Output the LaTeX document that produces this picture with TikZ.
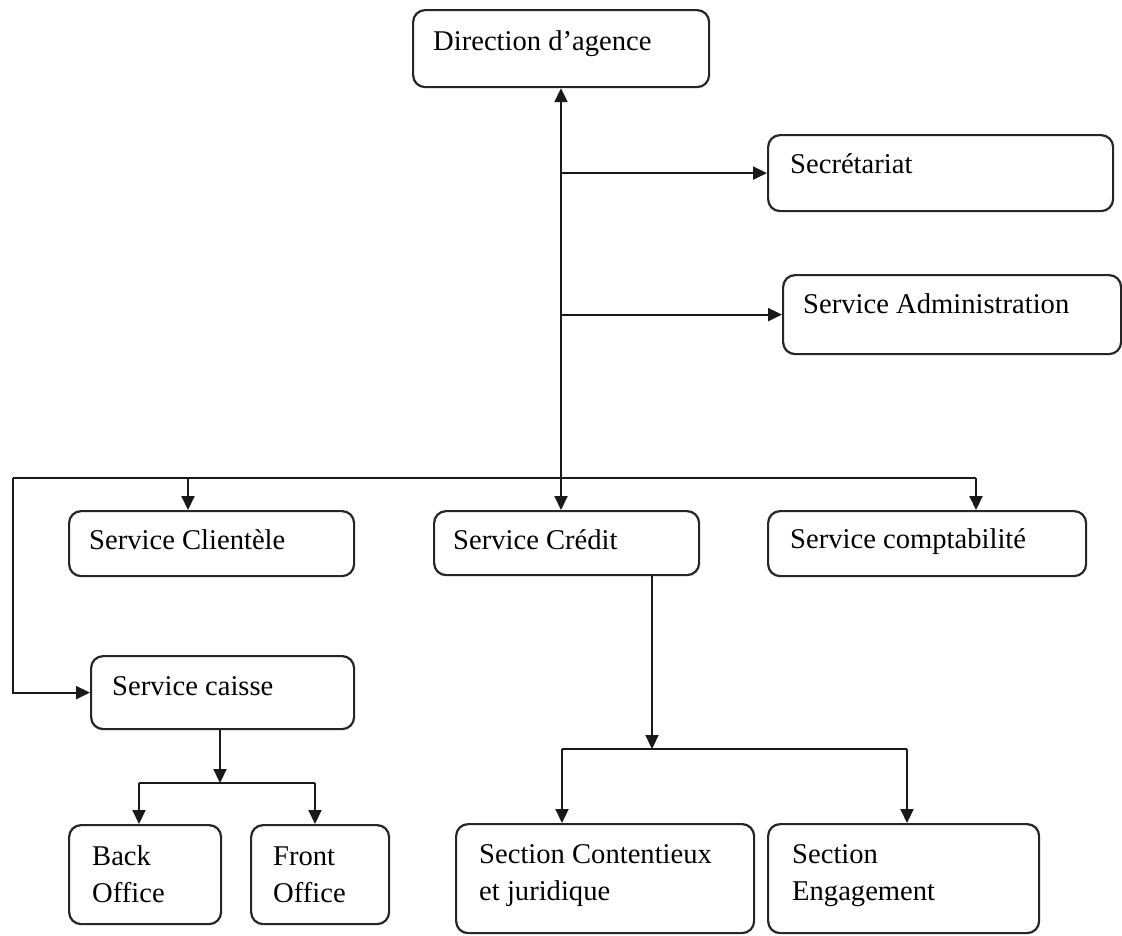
\documentclass[tikz,border=0pt]{standalone}
\usepackage{fontspec}
\setmainfont{Liberation Serif}
\usetikzlibrary{arrows.meta}
\newcommand\twolines[2]{\vtop{\hbox{#1}\hbox{#2}}}
\begin{document}
\begin{tikzpicture}[x=1pt,y=-1pt,
  unitbox/.style={draw=black!85, line width=2.2pt, rounded corners=12pt,
    anchor=north west, inner sep=0pt, fill=white},
  lbl/.style={anchor=base west, inner sep=0pt,
    font=\fontsize{28.6}{37}\selectfont},
  link/.style={line width=2.1pt, black!90},
  tip/.style={Triangle[length=14pt,width=13pt]},
  arr/.style={link, -{Triangle[length=14pt,width=13pt]}}]
\useasboundingbox (0,0) rectangle (1122,935);

% boxes
\node[unitbox, minimum width=296pt, minimum height=77pt]  (dir)   at (412,9)   {};
\node[unitbox, minimum width=345pt, minimum height=76pt]  (sec)   at (767,134) {};
\node[unitbox, minimum width=338pt, minimum height=79pt]  (adm)   at (782,274) {};
\node[unitbox, minimum width=285pt, minimum height=65pt]  (cli)   at (68,510)  {};
\node[unitbox, minimum width=265pt, minimum height=64pt]  (crd)   at (433,510) {};
\node[unitbox, minimum width=318pt, minimum height=65pt]  (cpt)   at (767,510) {};
\node[unitbox, minimum width=263pt, minimum height=73pt]  (cai)   at (90,655)  {};
\node[unitbox, minimum width=152pt, minimum height=99pt]  (back)  at (68,824)  {};
\node[unitbox, minimum width=138pt, minimum height=99pt]  (front) at (250,824) {};
\node[unitbox, minimum width=298pt, minimum height=109pt] (con)   at (455,823) {};
\node[unitbox, minimum width=271pt, minimum height=109pt] (eng)   at (767,823) {};

% labels
\node[lbl] (dirT)   at (433,50)  {Direction d’agence};
\node[lbl] (secT)   at (790,173) {Secrétariat};
\node[lbl] (admT)   at (803,313) {Service Administration};
\node[lbl] (cliT)   at (89,549)  {Service Clientèle};
\node[lbl] (crdT)   at (453,549) {Service Crédit};
\node[lbl] (cptT)   at (790,548) {Service comptabilité};
\node[lbl] (caiT)   at (112,695) {Service caisse};
\node[lbl] (backT)  at (92,865)  {\twolines{Back}{Office}};
\node[lbl] (frontT) at (273,865) {\twolines{Front}{Office}};
\node[lbl] (conT)   at (479,863) {\twolines{Section Contentieux}{et juridique}};
\node[lbl] (engT)   at (792,863) {\twolines{Section}{Engagement}};

% junction points
\coordinate (trunk) at (561,478);
\coordinate (busL)  at (13,478);
\coordinate (busA)  at (188,478);
\coordinate (busR)  at (976,478);
\coordinate (crdJ)  at (652,749);
\coordinate (brL)   at (562,749);
\coordinate (brR)   at (907,749);
\coordinate (caiJ)  at (220,783);
\coordinate (cbL)   at (139,783);
\coordinate (cbR)   at (315,783);

% main trunk and staff services
\draw[link, {Triangle[length=14pt,width=13pt]}-{Triangle[length=14pt,width=13pt]}]
  (trunk |- crd.north) -- (trunk |- dir.south);
\draw[arr] (trunk |- sec.west) -- (sec.west);
\draw[arr] (trunk |- adm.west) -- (adm.west);

% distribution bus
\draw[link] (busR) -- (busL);
\draw[arr] (busL) -- (busL |- cai.west) -- (cai.west);
\draw[arr] (busA) -- (busA |- cli.north);
\draw[arr] (busR) -- (busR |- cpt.north);

% credit sections
\draw[arr] (crd.south -| crdJ) -- (crdJ);
\draw[link] (brL) -- (brR);
\draw[arr] (brL) -- (brL |- con.north);
\draw[arr] (brR) -- (brR |- eng.north);

% cash desk offices
\draw[arr] (cai.south -| caiJ) -- (caiJ);
\draw[link] (cbL) -- (cbR);
\draw[arr] (cbL) -- (cbL |- back.north);
\draw[arr] (cbR) -- (cbR |- front.north);
\end{tikzpicture}
\end{document}
